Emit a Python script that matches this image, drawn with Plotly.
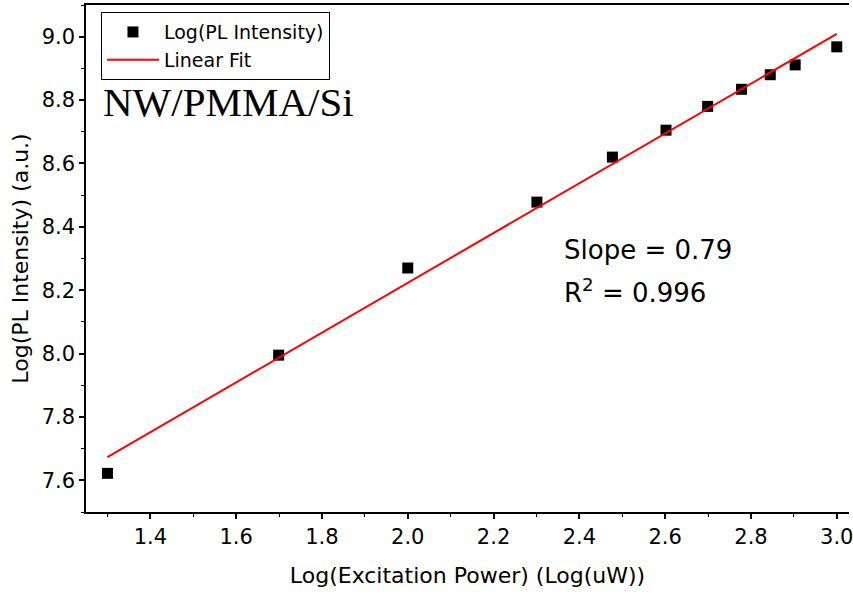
import plotly.graph_objects as go

# Data
power_log = [1.30, 1.699, 2.00, 2.301, 2.477, 2.602, 2.699, 2.778, 2.845, 2.903, 3.00]
pl_log = [7.622, 7.995, 8.270, 8.478, 8.620, 8.705, 8.780, 8.834, 8.880, 8.911, 8.968]

fit_x = [1.30, 3.00]
fit_y = [7.673, 9.009]

x_ticks = [1.4, 1.6, 1.8, 2.0, 2.2, 2.4, 2.6, 2.8, 3.0]
y_ticks = [7.6, 7.8, 8.0, 8.2, 8.4, 8.6, 8.8, 9.0]

font_sans = "DejaVu Sans, Arial, sans-serif"

fig = go.Figure()
fig.add_trace(go.Scatter(
    x=power_log, y=pl_log, mode="markers", name="Log(PL Intensity)",
    marker=dict(symbol="square", size=11, color="black"),
))
fig.add_trace(go.Scatter(
    x=fit_x, y=fit_y, mode="lines", name="Linear Fit",
    line=dict(color="red", width=2),
))

fig.update_layout(
    width=853, height=594,
    margin=dict(l=86, r=0, t=5, b=82),
    plot_bgcolor="white", paper_bgcolor="white",
    font=dict(family=font_sans, size=21, color="black"),
    showlegend=True,
    legend=dict(
        x=0.0196, y=0.986, xanchor="left", yanchor="top",
        bordercolor="black", borderwidth=1, bgcolor="rgba(255,255,255,0)",
        font=dict(family=font_sans, size=19, color="black"),
        tracegroupgap=0, itemsizing="trace", itemwidth=52,
    ),
    xaxis=dict(
        range=[1.25, 3.0285], tickvals=x_ticks, ticktext=[f"{v:.1f}" for v in x_ticks],
        tickfont=dict(size=21), ticklabeloverflow="allow",
        showline=True, linecolor="black", linewidth=1.5, mirror=True,
        ticks="outside", ticklen=5, tickwidth=1.5, tickcolor="black",
        minor=dict(ticks="outside", ticklen=3, tickwidth=1.2, dtick=0.1, tick0=1.3, tickcolor="black", showgrid=False),
        showgrid=False, zeroline=False,
        title=dict(text="Log(Excitation Power) (Log(uW))", font=dict(size=22), standoff=20),
    ),
    yaxis=dict(
        range=[7.5, 9.1], tickvals=y_ticks, ticktext=[f"{v:.1f}" for v in y_ticks],
        tickfont=dict(size=21),
        showline=True, linecolor="black", linewidth=1.5, mirror=False,
        ticks="outside", ticklen=5, tickwidth=1.5, tickcolor="black",
        minor=dict(ticks="outside", ticklen=3, tickwidth=1.2, dtick=0.1, tick0=7.5, tickcolor="black", showgrid=False),
        showgrid=False, zeroline=False,
        title=dict(text="Log(PL Intensity) (a.u.)", font=dict(size=22), standoff=7),
    ),
)

fig.add_annotation(
    xref="paper", yref="paper", x=0.0196, y=0.808, xanchor="left", yanchor="middle",
    text="NW/PMMA/Si", showarrow=False,
    font=dict(family="Liberation Serif, Times New Roman, serif", size=41, color="black"),
)
fig.add_annotation(
    xref="paper", yref="paper", x=0.624, y=0.517, xanchor="left", yanchor="middle",
    text="Slope = 0.79", showarrow=False,
    font=dict(family=font_sans, size=26, color="black"),
)
fig.add_annotation(
    xref="paper", yref="paper", x=0.624, y=0.436, xanchor="left", yanchor="middle",
    text="R<sup>2</sup> = 0.996", showarrow=False,
    font=dict(family=font_sans, size=26, color="black"),
)

fig.write_html("out.html")
